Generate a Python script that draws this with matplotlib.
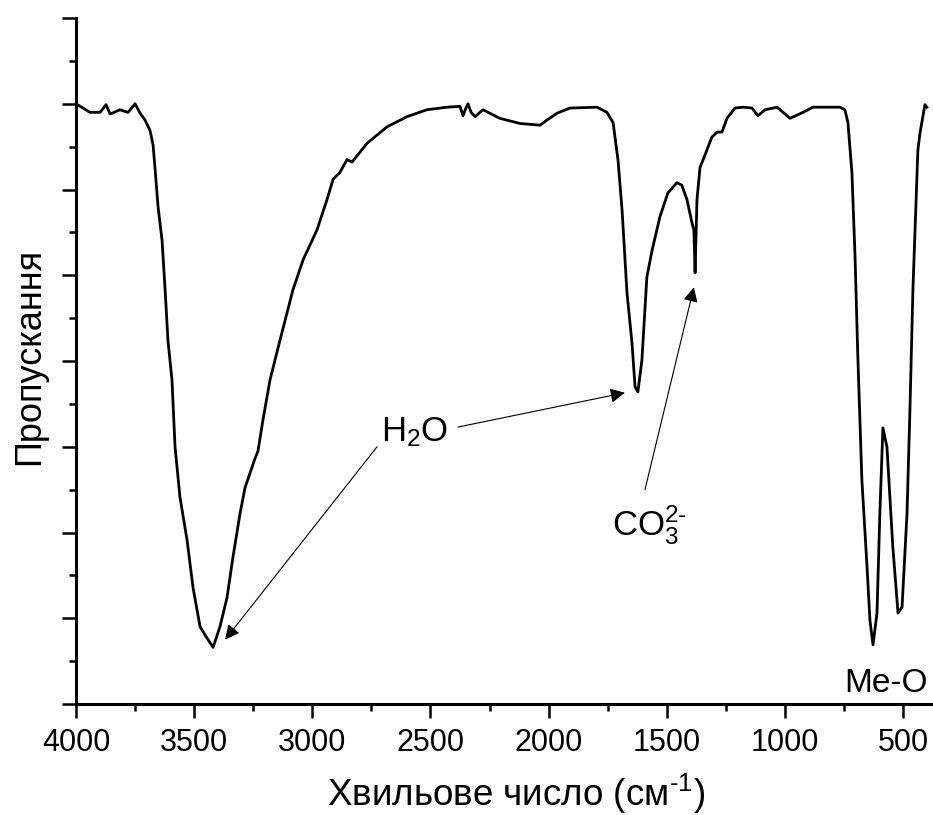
"""IR spectrum: transmittance vs wavenumber, with band annotations."""
import matplotlib.pyplot as plt
from matplotlib.ticker import MultipleLocator, NullFormatter

plt.rcParams['font.family'] = ['Liberation Sans', 'DejaVu Sans']
plt.rcParams['mathtext.fontset'] = 'custom'
plt.rcParams['mathtext.rm'] = 'Liberation Sans'
plt.rcParams['mathtext.default'] = 'regular'

# spectrum (wavenumber, cm^-1 / transmittance, arb. units)
wavenumber = [4000, 3941, 3898, 3873, 3856, 3814, 3780, 3750, 3729, 3708,
              3687, 3674, 3666, 3653, 3636, 3623, 3611, 3594, 3581, 3560,
              3530, 3505, 3475, 3446, 3420, 3391, 3361, 3336, 3306, 3285,
              3243, 3230, 3209, 3179, 3137, 3082, 3039, 2980, 2938, 2912,
              2883, 2853, 2832, 2768, 2684, 2599, 2515, 2430, 2375, 2362,
              2350, 2341, 2328, 2311, 2278, 2206, 2121, 2036, 2007, 1964,
              1909, 1795, 1753, 1727, 1706, 1689, 1668, 1647, 1634, 1622,
              1605, 1584, 1562, 1529, 1495, 1457, 1436, 1414, 1393, 1385,
              1380, 1372, 1359, 1347, 1309, 1287, 1266, 1245, 1211, 1177,
              1139, 1114, 1084, 1033, 978, 923, 881, 767, 746, 733,
              716, 703, 691, 674, 653, 640, 627, 610, 598, 585,
              568, 543, 521, 504, 483, 471, 458, 437, 428, 407, 399]
transmittance = [7.00, 6.90, 6.90, 6.99, 6.88, 6.93, 6.90, 7.00, 6.89, 6.81,
                 6.69, 6.52, 6.26, 5.80, 5.41, 4.83, 4.24, 3.78, 3.00, 2.41,
                 1.91, 1.36, 0.90, 0.77, 0.66, 0.90, 1.24, 1.71, 2.22, 2.52,
                 2.86, 2.95, 3.31, 3.78, 4.24, 4.83, 5.18, 5.53, 5.88, 6.12,
                 6.20, 6.35, 6.32, 6.54, 6.73, 6.85, 6.93, 6.96, 6.97, 6.86,
                 6.95, 7.00, 6.90, 6.85, 6.93, 6.83, 6.77, 6.75, 6.81, 6.89,
                 6.95, 6.96, 6.90, 6.78, 6.34, 5.76, 4.79, 4.21, 3.70, 3.64,
                 4.01, 4.98, 5.29, 5.68, 5.96, 6.08, 6.05, 5.88, 5.61, 5.53,
                 5.03, 5.88, 6.26, 6.34, 6.61, 6.67, 6.67, 6.83, 6.95, 6.96,
                 6.95, 6.86, 6.93, 6.96, 6.83, 6.90, 6.96, 6.96, 6.93, 6.78,
                 6.19, 5.22, 4.04, 2.61, 1.64, 0.98, 0.69, 1.06, 2.22, 3.22,
                 3.00, 1.83, 1.06, 1.13, 2.22, 3.39, 4.83, 6.46, 6.66, 6.99, 6.96]

fig = plt.figure(figsize=(9.33, 8.15), dpi=100)
ax = fig.add_axes([0.0815, 0.1362, 0.9185, 0.8417])

ax.plot(wavenumber, transmittance, color='black', lw=2.0,
        solid_joinstyle='round')

ax.set_xlim(4000, 373)
ax.set_ylim(0, 8)

for side in ('top', 'right'):
    ax.spines[side].set_visible(False)
for side in ('left', 'bottom'):
    ax.spines[side].set_linewidth(2.2)

ax.xaxis.set_major_locator(MultipleLocator(500))
ax.xaxis.set_minor_locator(MultipleLocator(250))
ax.yaxis.set_major_locator(MultipleLocator(1))
ax.yaxis.set_minor_locator(MultipleLocator(0.5))
ax.yaxis.set_major_formatter(NullFormatter())
ax.tick_params(which='major', direction='out', length=10, width=1.8,
               labelsize=22, pad=7)
ax.tick_params(which='minor', direction='out', length=5, width=1.8)

ax.set_xlabel(r'Хвильове число (см$^{\text{-}1}$)', fontsize=26.5, va='center')
ax.xaxis.set_label_coords(0.513, -0.131)
ax.set_ylabel('Пропускання', fontsize=26, va='center')
ax.yaxis.set_label_coords(-0.054, 0.506)

# band labels and arrows
arrow = dict(arrowstyle='-|>', color='black', lw=0.8, mutation_scale=22,
             shrinkA=0, shrinkB=0)
ax.text(2565, 3.06, 'H$_2$O', fontsize=25, ha='center', va='baseline')
ax.annotate('', xy=(3369, 0.75), xytext=(2726, 3.0), arrowprops=arrow)
ax.annotate('', xy=(1677, 3.63), xytext=(2383, 3.23), arrowprops=arrow)
ax.text(1732, 1.97, r'CO$_3^{2\text{-}}$', fontsize=25, ha='left',
        va='baseline')
ax.annotate('', xy=(1385, 4.86), xytext=(1592, 2.50), arrowprops=arrow)
ax.text(394, 0.14, 'Me-O', fontsize=24, ha='right', va='baseline')

fig.savefig('out.png', dpi=100)
